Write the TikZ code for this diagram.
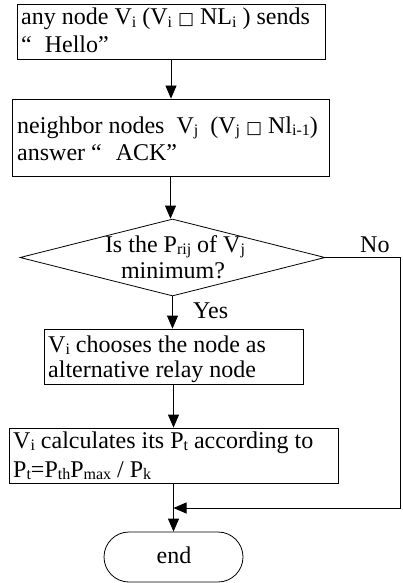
\documentclass[tikz,border=0pt]{standalone}
\usepackage{fontspec}
\setmainfont{Liberation Serif}
\newfontfamily\symfont{DejaVu Sans}
\usetikzlibrary{shapes.geometric,shapes.misc,arrows.meta}
\newcommand\sbs[1]{\raisebox{-2.5pt}{\fontsize{16}{16}\selectfont #1}}
\newcommand\mysq{{\symfont\fontsize{17}{17}\selectfont □}}
\tikzset{
  boxshape/.style={draw, line width=0.8pt, inner sep=0pt, rectangle},
  txt/.style={inner sep=0pt, anchor=base west, font=\fontsize{24}{25}\selectfont},
  ctxt/.style={inner sep=0pt, anchor=base, font=\fontsize{24}{25}\selectfont},
  arr/.style={draw, line width=0.8pt, -{Triangle[length=13pt,width=11pt]}},
  conn/.style={draw, line width=0.8pt}
}
\begin{document}
\begin{tikzpicture}[x=1pt,y=-1pt]
\useasboundingbox[fill=white] (0,0) rectangle (402,583);
% boxes
\node[boxshape, minimum width=308pt, minimum height=55pt] (b1) at (171,31.5) {};
\node[boxshape, minimum width=317pt, minimum height=77pt] (b2) at (170.5,137.5) {};
\node[draw, line width=0.8pt, diamond, inner sep=0pt, minimum width=305pt, minimum height=77pt] (d) at (172.5,257.5) {};
\node[boxshape, minimum width=259pt, minimum height=55pt] (b3) at (173.5,356.5) {};
\node[boxshape, minimum width=329pt, minimum height=55pt] (b4) at (173.5,455.5) {};
\node[draw, line width=0.8pt, rounded rectangle, inner sep=0pt, minimum width=139pt, minimum height=50pt] (e) at (173.5,557) {};
% texts
\node[txt] (t1a) at (21,25) {any node V\sbs{i} (V\sbs{i} \mysq{} NL\sbs{i} ) sends};
\node[txt] (t1b) at (21,53) {“\hspace{13pt}Hello”};
\node[txt] (t2a) at (17,133) {neighbor nodes\ \ V\sbs{j}\ \ (V\sbs{j} \mysq{} Nl\sbs{i-1})};
\node[txt] (t2b) at (17,160) {answer “\hspace{14pt}ACK”};
\node[ctxt] (td1) at (175,252) {Is the P\sbs{rij} of V\sbs{j}};
\node[ctxt] (td2) at (173,278) {minimum?};
\node[txt] (t3a) at (48,352) {V\sbs{i} chooses the node as};
\node[txt] (t3b) at (48,377) {alternative relay node};
\node[txt] (t4a) at (13,448) {V\sbs{i} calculates its P\sbs{t} according to};
\node[txt] (t4b) at (13,477) {P\sbs{t}=P\sbs{th}P\sbs{max} / P\sbs{k}};
\node[ctxt] (te) at (174,563) {end};
\node[txt] (no) at (360,252) {No};
\node[txt] (yes) at (193,318) {Yes};
% connectors
\coordinate (j) at (173.5,508);
\draw[arr] (b1.south) -- (b1.south |- b2.north);
\draw[arr] (b2.south) -- (b2.south |- d.north);
\draw[arr] (d.south) -- (d.south |- b3.north);
\draw[arr] (b3.south) -- (b4.north);
\draw[arr] (b4.south) -- (e.north);
\draw[arr] (d.east) -- ++(75,0) |- (j);
\end{tikzpicture}
\end{document}
